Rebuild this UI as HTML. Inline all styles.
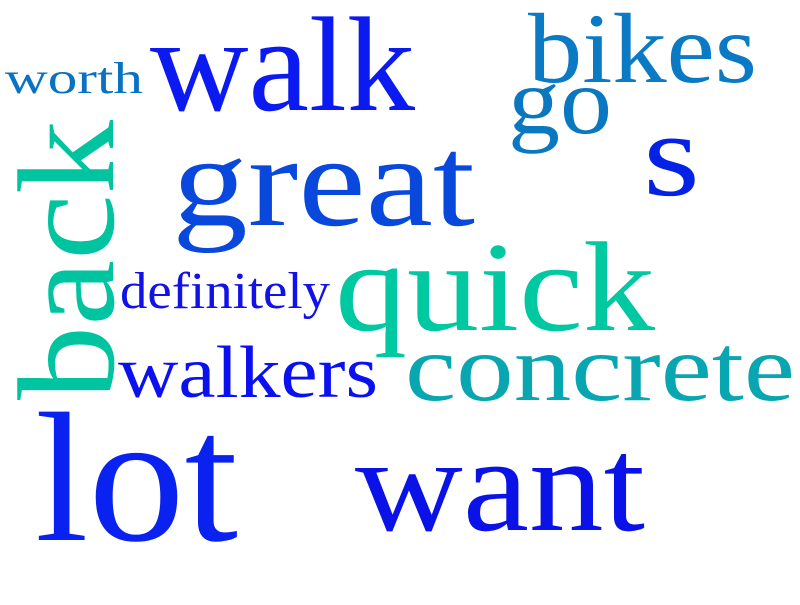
<!DOCTYPE html>
<html><head><meta charset="utf-8"><style>
html,body{margin:0;padding:0;background:#fff;}
svg text{font-family:"Liberation Serif",serif;}
</style></head><body>
<svg width="800" height="600" viewBox="0 0 800 600">
<rect width="800" height="600" fill="#fff"/>
<text x="5" y="93" font-size="44" fill="#0a72c2" textLength="138" lengthAdjust="spacingAndGlyphs">worth</text>
<text x="150" y="110" font-size="135" fill="#0a1af0" textLength="265" lengthAdjust="spacingAndGlyphs">walk</text>
<text x="528" y="82" font-size="100" fill="#0a7ac4" textLength="229" lengthAdjust="spacingAndGlyphs">bikes</text>
<text x="508" y="133" font-size="95" fill="#0a78c0" textLength="104" lengthAdjust="spacingAndGlyphs">go</text>
<text x="643" y="195" font-size="120" fill="#0422e6" textLength="57" lengthAdjust="spacingAndGlyphs">s</text>
<text x="172" y="225" font-size="130" fill="#0848dc" textLength="303" lengthAdjust="spacingAndGlyphs">great</text>
<text transform="translate(113,400) rotate(-90)" x="0" y="0" font-size="138" fill="#00c4a0" textLength="280" lengthAdjust="spacingAndGlyphs">back</text>
<text x="120" y="308" font-size="52" fill="#1212e8" textLength="210" lengthAdjust="spacingAndGlyphs">definitely</text>
<text x="335" y="330" font-size="128" fill="#00c8a0" textLength="320" lengthAdjust="spacingAndGlyphs">quick</text>
<text x="118" y="397" font-size="74" fill="#0a10f0" textLength="260" lengthAdjust="spacingAndGlyphs">walkers</text>
<text x="405" y="400" font-size="95" fill="#08a6b0" textLength="390" lengthAdjust="spacingAndGlyphs">concrete</text>
<text x="35" y="540" font-size="185" fill="#0a22f0" textLength="203" lengthAdjust="spacingAndGlyphs">lot</text>
<text x="355" y="530" font-size="135" fill="#0a12e8" textLength="290" lengthAdjust="spacingAndGlyphs">want</text>
</svg>
</body></html>
